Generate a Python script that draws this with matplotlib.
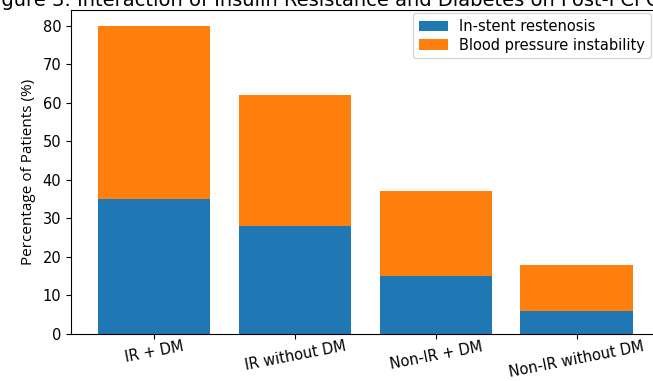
import matplotlib
matplotlib.use('Agg')
import matplotlib.pyplot as plt

groups = ['IR + DM', 'IR without DM', 'Non-IR + DM', 'Non-IR without DM']
restenosis = [35, 28, 15, 6]
bp_instability = [45, 34, 22, 12]

fig = plt.figure(figsize=(6.53, 3.81), dpi=100)
ax = fig.add_axes([0.1087, 0.1234, 0.902, 0.850])

ax.bar(groups, restenosis, label='In-stent restenosis', color='#1f77b4')
ax.bar(groups, bp_instability, bottom=restenosis,
       label='Blood pressure instability', color='#ff7f0e')

ax.set_title('Figure 3: Interaction of Insulin Resistance and Diabetes on Post-PCI Outcomes',
             fontsize=14, pad=3)
ax.set_ylabel('Percentage of Patients (%)', fontsize=11, labelpad=5,
              family=['Open Sans', 'DejaVu Sans'])
ax.tick_params(axis='y', labelsize=10.5)
ax.tick_params(axis='x', labelsize=10.5, pad=0)
plt.setp(ax.get_xticklabels(), rotation=11)
ax.legend(loc='upper right', bbox_to_anchor=(0.985, 0.991), borderaxespad=0,
          fontsize=10.5, labelspacing=0.25)

fig.savefig('out.png', dpi=100)
